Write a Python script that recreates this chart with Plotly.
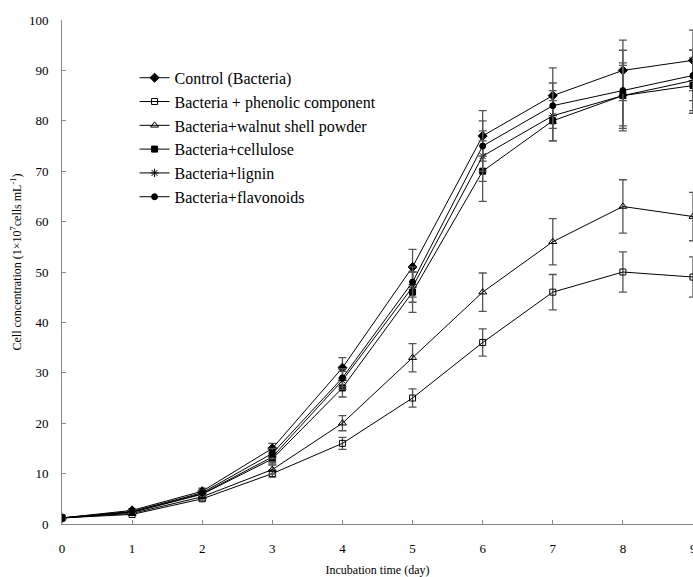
import plotly.graph_objects as go

days = [0, 1, 2, 3, 4, 5, 6, 7, 8, 9]

series_names = [
    "Control (Bacteria)",
    "Bacteria + phenolic component",
    "Bacteria+walnut shell powder",
    "Bacteria+cellulose",
    "Bacteria+lignin",
    "Bacteria+flavonoids",
]

control = [1.2, 2.7, 6.5, 15.0, 31.0, 51.0, 77.0, 85.0, 90.0, 92.0]
phenolic = [1.2, 1.9, 5.0, 10.0, 16.0, 25.0, 36.0, 46.0, 50.0, 49.0]
walnut = [1.2, 2.1, 5.4, 10.8, 20.0, 33.0, 46.0, 56.0, 63.0, 61.0]
cellulose = [1.2, 2.3, 5.9, 12.9, 27.0, 46.0, 70.0, 80.0, 85.0, 87.0]
lignin = [1.2, 2.4, 6.0, 13.3, 28.5, 47.0, 73.0, 81.0, 85.0, 88.0]
flavonoids = [1.2, 2.5, 6.2, 14.0, 29.0, 48.0, 75.0, 83.0, 86.0, 89.0]

control_err = [0.2, 0.3, 0.6, 1.0, 2.0, 3.5, 5.0, 5.5, 6.0, 6.0]
phenolic_err = [0.2, 0.2, 0.4, 0.7, 1.2, 1.8, 2.7, 3.5, 4.0, 4.0]
walnut_err = [0.2, 0.2, 0.4, 0.9, 1.5, 2.8, 3.8, 4.6, 5.3, 4.8]
cellulose_err = [0.2, 0.3, 0.5, 1.0, 1.8, 4.0, 6.0, 4.0, 6.5, 5.5]
lignin_err = [0.2, 0.3, 0.5, 1.0, 1.8, 3.0, 5.0, 5.0, 6.0, 6.0]
flavonoids_err = [0.2, 0.3, 0.5, 1.0, 1.8, 3.0, 5.0, 4.5, 8.0, 5.0]

x_ticks = [0, 1, 2, 3, 4, 5, 6, 7, 8, 9]
y_ticks = [0, 10, 20, 30, 40, 50, 60, 70, 80, 90, 100]

values = [control, phenolic, walnut, cellulose, lignin, flavonoids]
errors = [control_err, phenolic_err, walnut_err, cellulose_err, lignin_err, flavonoids_err]
symbols = ["diamond", "square-open", "triangle-up-open", "square", "asterisk-open", "circle"]
sizes = [7, 6, 7, 6, 7, 6]

FONT = "Liberation Serif, Times New Roman, serif"

fig = go.Figure()
for name, ys, es, sym, sz in zip(series_names, values, errors, symbols, sizes):
    fig.add_trace(go.Scatter(
        x=days, y=ys, name=name, mode="lines+markers",
        line=dict(color="black", width=1),
        marker=dict(symbol=sym, size=sz, color="black",
                    line=dict(color="black", width=1)),
        error_y=dict(type="data", array=es, visible=True,
                     color="#555555", thickness=1.3, width=4),
    ))

fig.update_layout(
    width=693, height=577,
    margin=dict(l=62, r=0, t=20, b=53),
    paper_bgcolor="white", plot_bgcolor="white",
    font=dict(family=FONT, color="black", size=13),
    showlegend=True,
    legend=dict(
        x=0.115, y=0.919, xanchor="left", yanchor="top",
        bgcolor="rgba(0,0,0,0)", borderwidth=0,
        font=dict(family=FONT, size=16, color="black"),
        tracegroupgap=0, itemwidth=30,
    ),
    xaxis=dict(
        range=[0, 9], tickvals=x_ticks, ticktext=[str(v) for v in x_ticks],
        showgrid=False, zeroline=False, showline=True, linecolor="#888888",
        linewidth=1, ticks="inside", ticklen=4, tickcolor="#888888",
        tickfont=dict(family=FONT, size=13), ticklabelstandoff=12,
        title=dict(text="Incubation time (day)", font=dict(family=FONT, size=12), standoff=14),
    ),
    yaxis=dict(
        range=[0, 100], tickvals=y_ticks,
        showgrid=False, zeroline=False, showline=True, linecolor="#888888",
        linewidth=1, ticks="inside", ticklen=4, tickcolor="#888888",
        tickfont=dict(family=FONT, size=13), ticklabelstandoff=10,
    ),
)

# last x tick label (cut by the right edge as in the reference)
fig.add_annotation(
    text=str(x_ticks[-1]), xref="x", yref="paper", x=x_ticks[-1], y=0,
    yshift=-24, xanchor="center", yanchor="middle", showarrow=False,
    font=dict(family=FONT, size=13, color="black"),
)

fig.add_annotation(
    text="Cell concentration (1×10<sup>7</sup>cells mL<sup>-1</sup>)",
    xref="paper", yref="paper", x=-0.072, y=0.52,
    xanchor="center", yanchor="middle", textangle=-90, showarrow=False,
    font=dict(family=FONT, size=12, color="black"),
)

fig.write_html("out.html")
